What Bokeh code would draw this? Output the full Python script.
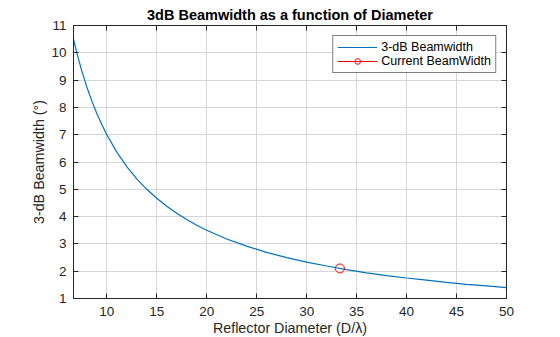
from bokeh.plotting import figure
from bokeh.models import LinearAxis, Range1d, FixedTicker, Legend, LegendItem, CustomJSTickFormatter
from bokeh.embed import file_html
from bokeh.resources import INLINE

# Data
diameter = [6.67, 7, 7.5, 8, 8.5, 9, 9.5, 10, 11, 12, 13, 14, 15, 16, 17, 18, 19, 20,
            22, 24, 26, 28, 30, 32, 34, 36, 38, 40, 42, 44, 46, 48, 50]
beamwidth = [10.5, 10.0, 9.33, 8.75, 8.24, 7.78, 7.37, 7.0, 6.36, 5.83, 5.38, 5.0, 4.67,
             4.38, 4.12, 3.89, 3.68, 3.5, 3.18, 2.92, 2.69, 2.5, 2.33, 2.19, 2.06, 1.94,
             1.84, 1.75, 1.67, 1.59, 1.52, 1.46, 1.4]
current_d = [33.33]
current_bw = [2.1]
x_ticks = [10, 15, 20, 25, 30, 35, 40, 45, 50]
y_ticks = [1, 2, 3, 4, 5, 6, 7, 8, 9, 10, 11]

FONT = "Liberation Sans"
TXT = "#262626"

p = figure(frame_width=433, frame_height=273, output_backend="svg", toolbar_location=None,
           x_range=Range1d(6.6667, 50), y_range=Range1d(1, 11),
           min_border_left=73, min_border_right=54, min_border_top=25, min_border_bottom=38,
           title="3dB Beamwidth as a function of Diameter")
p.title.text_font = FONT
p.title.text_font_size = "14.5px"
p.title.text_font_style = "bold"
p.title.text_color = "#000000"
p.title.align = "center"
p.title.standoff = 6

p.outline_line_color = TXT
p.outline_line_width = 1
p.background_fill_color = "white"
p.border_fill_color = "white"

for ax in (p.xaxis[0], p.yaxis[0]):
    ax.major_tick_in = 5
    ax.major_tick_out = 0
    ax.minor_tick_line_color = None
    ax.axis_line_color = TXT
    ax.major_tick_line_color = TXT
    ax.major_label_text_font = FONT
    ax.major_label_text_font_size = "13.5px"
    ax.major_label_text_color = TXT
    ax.axis_label_text_font = FONT
    ax.axis_label_text_font_size = "14.3px"
    ax.axis_label_text_font_style = "normal"
    ax.axis_label_text_color = TXT

p.xaxis[0].ticker = FixedTicker(ticks=x_ticks)
p.yaxis[0].ticker = FixedTicker(ticks=y_ticks)
p.xaxis[0].axis_label = "Reflector Diameter (D/λ)"
p.yaxis[0].axis_label = "3-dB Beamwidth (°)"
p.xaxis[0].major_label_standoff = 8
p.yaxis[0].major_label_standoff = 7
p.xaxis[0].axis_label_standoff = 1
p.yaxis[0].axis_label_standoff = 1

blank = CustomJSTickFormatter(code="return ''")
right = LinearAxis(ticker=FixedTicker(ticks=y_ticks), formatter=blank,
                   major_tick_in=5, major_tick_out=0, minor_tick_line_color=None,
                   axis_line_color=TXT, major_tick_line_color=TXT, major_label_standoff=0)
top = LinearAxis(ticker=FixedTicker(ticks=x_ticks), formatter=blank,
                 major_tick_in=5, major_tick_out=0, minor_tick_line_color=None,
                 axis_line_color=TXT, major_tick_line_color=TXT, major_label_standoff=0)
p.add_layout(right, "right")
p.add_layout(top, "above")

p.xgrid.ticker = FixedTicker(ticks=x_ticks)
p.ygrid.ticker = FixedTicker(ticks=y_ticks)
p.grid.grid_line_color = "#d6d6d6"
p.grid.grid_line_width = 1

r1 = p.line(diameter, beamwidth, line_color="#0072BD", line_width=1.2)
r2 = p.line(current_d, current_bw, line_color="#FF0000", line_width=1.2)
r3 = p.scatter(current_d, current_bw, marker="circle", size=9, fill_color=None,
               line_color="#FF0000", line_width=1)

legend = Legend(items=[LegendItem(label="3-dB Beamwidth", renderers=[r1]),
                       LegendItem(label="Current BeamWidth", renderers=[r2, r3])],
                location="top_right")
legend.margin = 10
legend.padding = 4
legend.spacing = 0
legend.label_text_font = FONT
legend.label_text_font_size = "12.5px"
legend.label_text_color = "#000000"
legend.label_standoff = 4
legend.glyph_width = 40
legend.glyph_height = 14
legend.label_height = 14
legend.border_line_color = "#000000"
legend.border_line_width = 1
legend.background_fill_alpha = 1
p.add_layout(legend)

open("out.html", "w").write(file_html(p, INLINE))
